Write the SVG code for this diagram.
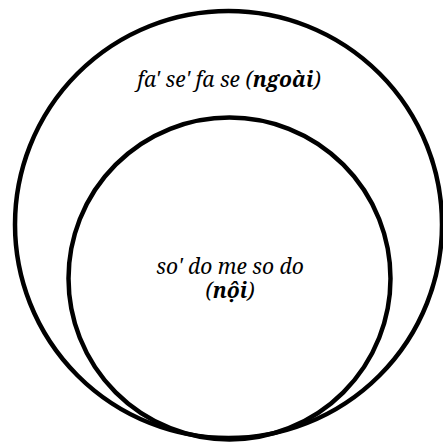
<svg xmlns="http://www.w3.org/2000/svg" width="443" height="443" viewBox="0 0 443 443">
<style>
.c{fill:none;stroke:#000;stroke-width:4.5}
.t{font-family:"Noto Serif","DejaVu Serif",serif;font-style:italic;font-size:21px;fill:#000;text-anchor:middle}
.b{font-weight:bold}
</style>
<rect width="443" height="443" fill="#fff"/>
<g id="outer">
<circle class="c" cx="228.5" cy="224.5" r="213.5"/>
<text class="t" x="229" y="87">fa' se' fa se (<tspan class="b">ngoài</tspan>)</text>
</g>
<g id="inner">
<circle class="c" cx="229.5" cy="278.5" r="161"/>
<text class="t" x="230" y="274">so' do me so do<tspan x="230" y="298">(<tspan class="b">nội</tspan>)</tspan></text>
</g>
<g id="connectors"/>
</svg>
